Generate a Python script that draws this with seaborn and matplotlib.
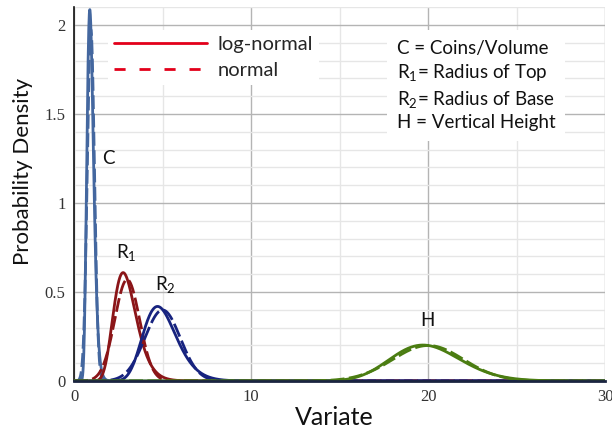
import numpy as np
import pandas as pd
import matplotlib
matplotlib.use("Agg")
import matplotlib.pyplot as plt
from matplotlib.lines import Line2D
from matplotlib.ticker import MultipleLocator
import seaborn as sns

# Distribution parameters (mean, standard deviation) for each variate
variables = ["C", "R1", "R2", "H"]
means = [0.95, 3.0, 5.0, 20.0]
sds = [0.202, 0.70, 1.00, 2.00]
colors = ["#44679f", "#8b1518", "#17237f", "#4b7d12"]
label_pos_x = [1.92, 2.94, 5.14, 19.95]
label_pos_y = [1.25, 0.72, 0.54, 0.34]
label_text = ["C", "R$_1$", "R$_2$", "H"]
key_lines = ["C = Coins/Volume", "R$_1$= Radius of Top",
             "R$_2$= Radius of Base", "H = Vertical Height"]

sns.set_theme(style="white")
sans = "Lato"
plt.rcParams["font.family"] = [sans, "DejaVu Sans"]
plt.rcParams["mathtext.fontset"] = "custom"
plt.rcParams["mathtext.rm"] = sans
plt.rcParams["mathtext.it"] = sans

x = np.linspace(0.001, 30, 3000)
frames = []
for v, m, s in zip(variables, means, sds):
    normal = np.exp(-(x - m) ** 2 / (2 * s ** 2)) / (s * np.sqrt(2 * np.pi))
    sig2 = np.log(1 + (s / m) ** 2)
    mu = np.log(m) - sig2 / 2
    logn = np.exp(-(np.log(x) - mu) ** 2 / (2 * sig2)) / (x * np.sqrt(2 * np.pi * sig2))
    frames.append(pd.DataFrame({"x": x, "density": logn, "var": v, "dist": "log-normal"}))
    frames.append(pd.DataFrame({"x": x, "density": normal, "var": v, "dist": "normal"}))
df = pd.concat(frames, ignore_index=True)

fig = plt.figure(figsize=(6.12, 4.30), dpi=100)
ax = fig.add_axes([0.121, 0.114, 0.868, 0.869])

sns.lineplot(data=df, x="x", y="density", hue="var", style="dist",
             palette=dict(zip(variables, colors)),
             dashes={"log-normal": "", "normal": (5, 1.6)},
             linewidth=2.0, legend=False, ax=ax, zorder=3)

ax.set_xlim(0, 30)
ax.set_ylim(0, 2.1)
ax.xaxis.set_major_locator(MultipleLocator(10))
ax.xaxis.set_minor_locator(MultipleLocator(5))
ax.yaxis.set_major_locator(MultipleLocator(0.5))
ax.yaxis.set_minor_locator(MultipleLocator(0.1))
ax.set_yticks([0, 0.5, 1, 1.5, 2])
ax.set_yticklabels(["0", "0.5", "1", "1.5", "2"])
ax.grid(which="major", color="#b4b4b4", linewidth=1.0)
ax.grid(which="minor", color="#e6e6e6", linewidth=1.0)
ax.set_axisbelow(True)
ax.tick_params(axis="both", which="both", length=0, labelsize=12, pad=6)
for lab in ax.get_xticklabels() + ax.get_yticklabels():
    lab.set_fontfamily("Liberation Serif")
    lab.set_color("#333333")

for side in ["top", "right"]:
    ax.spines[side].set_visible(False)
ax.spines["left"].set_color("#111111")
ax.spines["left"].set_linewidth(1.2)
ax.spines["bottom"].set_color("#1a2440")
ax.spines["bottom"].set_linewidth(2.0)
ax.spines["bottom"].set_zorder(4)

ax.set_xlabel("Variate", fontsize=18, color="#111111")
ax.set_ylabel("Probability Density", fontsize=16, color="#111111")
ax.xaxis.set_label_coords(0.49, -0.066)
ax.yaxis.set_label_coords(-0.077, 0.56)

for tx, ty, t in zip(label_pos_x, label_pos_y, label_text):
    ax.text(tx, ty, t, fontsize=13.5, ha="center", va="center", color="#111111", zorder=5)

handles = [Line2D([], [], color="#e2001a", lw=2.0, linestyle="-"),
           Line2D([], [], color="#e2001a", lw=2.0, linestyle=(0, (4, 5)))]
leg = ax.legend(handles, ["log-normal", "normal"], loc="upper left",
                bbox_to_anchor=(0.064, 0.94), fontsize=14.5, handlelength=4.6,
                handletextpad=0.55, labelspacing=0.45, frameon=True,
                facecolor="white", edgecolor="none", framealpha=1.0,
                borderpad=0.3, borderaxespad=0)
leg.set_zorder(6)

ax.text(0.607, 0.913, "\n".join(key_lines), transform=ax.transAxes,
        fontsize=13.5, ha="left", va="top", linespacing=1.34, color="#111111",
        bbox=dict(facecolor="white", edgecolor="none", pad=7), zorder=6)

fig.savefig("out.png", dpi=100)
